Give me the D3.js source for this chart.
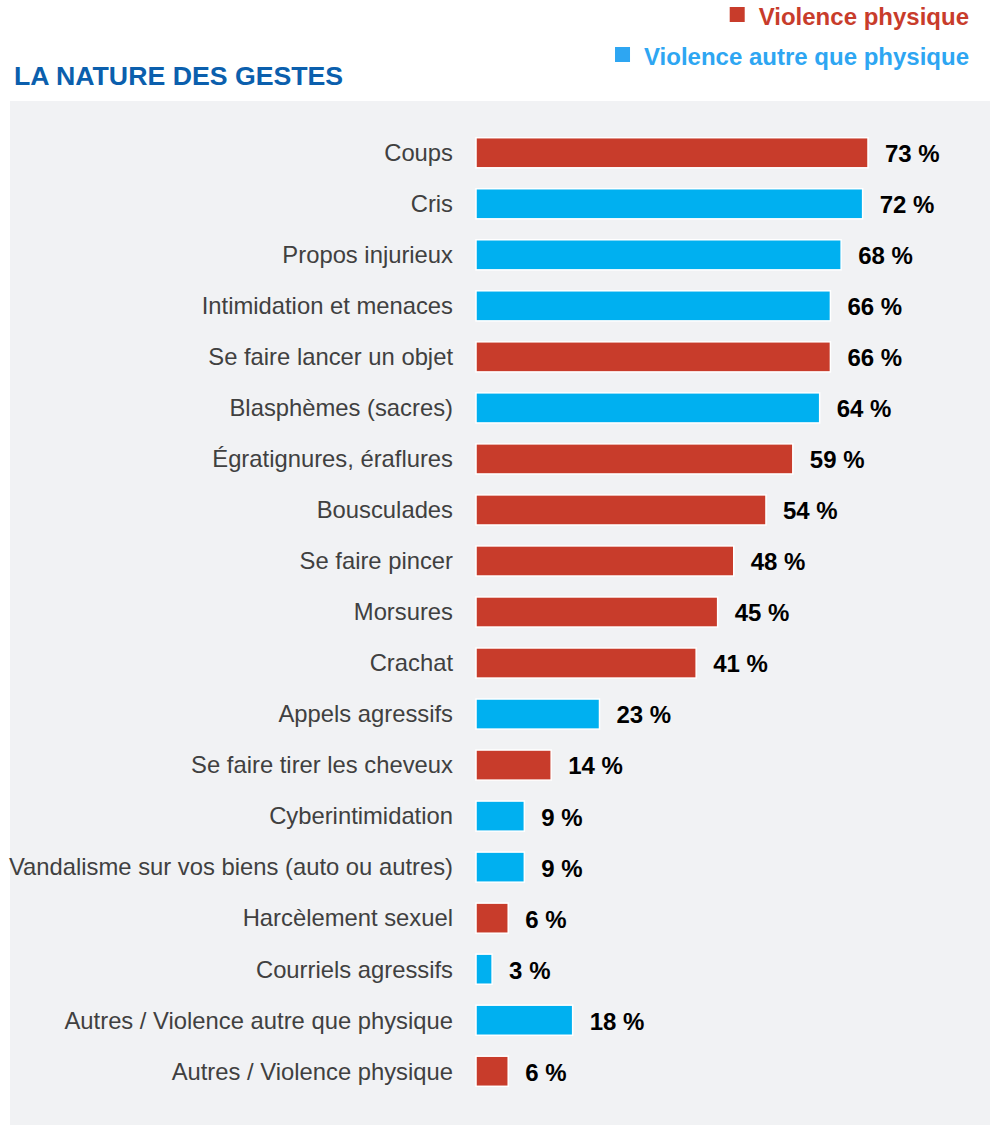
<!DOCTYPE html>
<html>
<head>
<meta charset="utf-8">
<script src="https://cdn.jsdelivr.net/npm/d3@7"></script>
<style>
  body { margin: 0; background: #ffffff; }
  svg { display: block; font-family: "Liberation Sans", Arial, sans-serif; }
</style>
</head>
<body>
<div id="chart"></div>
<script>
const WIDTH = 990;
const HEIGHT = 1125;

const categories = [
  "Coups", "Cris", "Propos injurieux", "Intimidation et menaces",
  "Se faire lancer un objet", "Blasphèmes (sacres)", "Égratignures, éraflures",
  "Bousculades", "Se faire pincer", "Morsures", "Crachat", "Appels agressifs",
  "Se faire tirer les cheveux", "Cyberintimidation",
  "Vandalisme sur vos biens (auto ou autres)", "Harcèlement sexuel",
  "Courriels agressifs", "Autres / Violence autre que physique",
  "Autres / Violence physique"
];
const values = [73, 72, 68, 66, 66, 64, 59, 54, 48, 45, 41, 23, 14, 9, 9, 6, 3, 18, 6];
// "p" = violence physique, "a" = violence autre que physique
const types = ["p", "a", "a", "a", "p", "a", "p", "p", "p", "p", "p", "a", "p", "a", "a", "p", "a", "a", "p"];
const legendLabels = ["Violence physique", "Violence autre que physique"];

const COLOR_P = "#c83c2b";
const COLOR_A = "#00b0f0";

const svg = d3.select("#chart")
  .append("svg")
  .attr("width", WIDTH)
  .attr("height", HEIGHT);

// grey panel
svg.append("rect")
  .attr("x", 10)
  .attr("y", 101)
  .attr("width", WIDTH - 10)
  .attr("height", HEIGHT - 101)
  .attr("fill", "#f1f2f4");

// title
svg.append("text")
  .attr("x", 14)
  .attr("y", 85)
  .attr("fill", "#0b5fad")
  .style("font-size", "26.7px")
  .style("font-weight", "bold")
  .text("LA NATURE DES GESTES");

// legend, right aligned
const legendColors = [COLOR_P, "#2ea6f2"];
legendLabels.forEach((label, i) => {
  const y = 25 + i * 40;
  const t = svg.append("text")
    .attr("x", 969)
    .attr("y", y)
    .attr("text-anchor", "end")
    .attr("fill", legendColors[i])
    .style("font-size", "24px")
    .style("font-weight", "bold")
    .text(label);
  const w = t.node().getComputedTextLength();
  svg.append("rect")
    .attr("x", 969 - w - 29)
    .attr("y", y - 18)
    .attr("width", 15)
    .attr("height", 15)
    .attr("fill", legendColors[i]);
});

const x = d3.scaleLinear()
  .domain([0, 73])
  .range([476, 868]);

const y = d3.scaleBand()
  .domain(categories)
  .range([127.5, 1096.5])
  .paddingInner(0.41)
  .paddingOuter(0.2);

const rows = svg.append("g")
  .selectAll("g")
  .data(categories)
  .join("g");

rows.append("rect")
  .attr("x", x(0))
  .attr("y", d => y(d))
  .attr("width", (d, i) => x(values[i]) - x(0))
  .attr("height", y.bandwidth())
  .attr("fill", (d, i) => types[i] === "p" ? COLOR_P : COLOR_A)
  .attr("stroke", "#ffffff")
  .attr("stroke-width", 1.5);

rows.append("text")
  .attr("x", 453)
  .attr("y", d => y(d) + y.bandwidth() / 2)
  .attr("dy", ".35em")
  .attr("text-anchor", "end")
  .attr("fill", "#404040")
  .style("font-size", "23.8px")
  .text(d => d);

rows.append("text")
  .attr("x", (d, i) => x(values[i]) + 17)
  .attr("y", d => y(d) + y.bandwidth() / 2 + 1)
  .attr("dy", ".35em")
  .attr("fill", "#000000")
  .style("font-size", "24px")
  .style("font-weight", "bold")
  .text((d, i) => `${values[i]} %`);
</script>
</body>
</html>
